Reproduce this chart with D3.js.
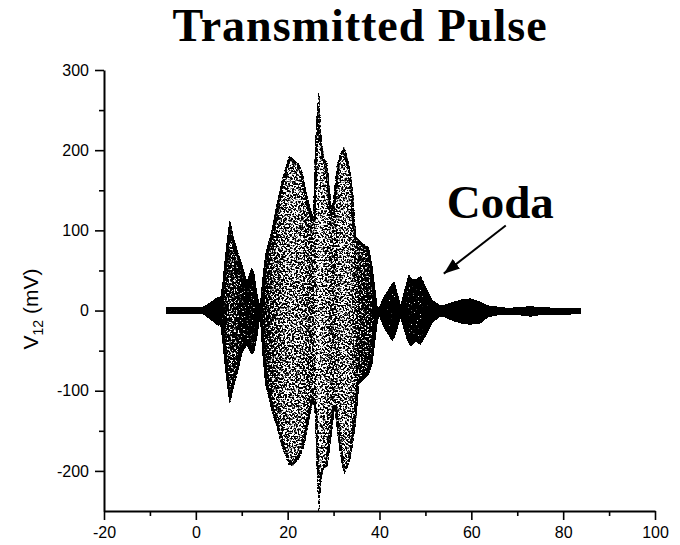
<!DOCTYPE html>
<html>
<head>
<meta charset="utf-8">
<script src="https://cdn.jsdelivr.net/npm/d3@7"></script>
<style>
	body { margin: 0; background: #fff; }
	svg { display: block; }
	.tick text { font-family: Arial, "Liberation Sans", sans-serif; font-size: 16px; fill: #000; }
</style>
</head>
<body>
<div id="chart"></div>
<script>
// envelope of the transmitted pulse (time in us, mV)
var envTime  = [-6.4, 1.5, 3.0, 5.0, 5.3, 5.8, 6.5, 7.4, 8.2, 9.0, 10.1, 11.1, 12.1, 12.6, 13.4, 14.0,
	14.6, 15.2, 16.6, 17.4, 18.8, 20.3, 21.0, 22.4, 23.2, 23.9, 25.0, 25.6, 26.0, 26.4, 26.8, 27.3, 27.9, 28.6,
	29.6, 30.2, 30.8, 31.5, 32.3, 33.0, 33.7, 34.3, 34.8, 35.5, 37.0, 37.6, 38.4, 39.5, 39.9,
	41.0, 42.8, 43.2, 44.6, 46.1, 46.4, 46.8, 47.9, 48.9, 50.4, 51.5, 52.9, 54.4, 56.0, 58.0, 59.8, 62.0,
	63.5, 66.0, 68.0, 70.0, 72.9, 75.0, 80.0, 83.8];
var envUpper = [3.5, 3.5, 9, 17, 12, 30, 70, 112, 90, 75, 56, 35, 52, 48, 17, 4,
	40, 70, 100, 125, 162, 192, 190, 183, 172, 150, 125, 115, 200, 245, 271, 215, 190, 183,
	121, 150, 183, 195, 204, 190, 171, 140, 92, 88, 80, 79, 54, 4, 3,
	17, 33, 35, 5, 38, 44, 40, 38, 42.5, 25, 12.5, 7, 7, 10, 13.5, 14.6, 10,
	6, 4, 3, 3.5, 5, 3.5, 3, 3];
var envLower = [-3.5, -3.5, -10, -19, -12, -35, -75, -115, -95, -78, -52, -42, -54, -52, -29, -5,
	-55, -92, -125, -141, -170, -192, -194, -185, -175, -160, -125, -112, -130, -200, -250, -210, -195, -196,
	-150, -121, -150, -180, -204, -195, -183, -160, -140, -92, -83, -79, -65, -15, -5,
	-21, -37, -33, -8, -37, -40, -44, -38, -42, -27, -15, -8, -8, -12.5, -16, -17, -15.6,
	-8, -5, -5, -5, -7, -5, -4.5, -4];

var tickX = [-20, 0, 20, 40, 60, 80, 100];
var minorX = [-10, 10, 30, 50, 70, 90];
var tickY = [-200, -100, 0, 100, 200, 300];
var minorY = [-150, -50, 50, 150, 250];

var titleText = "Transmitted Pulse";
var codaText = "Coda";
var codaLabel = [66.3, 115];
var codaArrow = [[67.5, 106], [54, 46]];

var width = 680, height = 545;
var x = d3.scaleLinear().domain([-20, 100]).range([104, 655]);
var y = d3.scaleLinear().domain([-250, 300]).range([511, 70]);

// dot density of the trace drops as the swing grows
var density = d3.scaleLog().domain([12, 45, 115, 190, 270]).range([1.0, 0.74, 0.61, 0.54, 0.48]).clamp(true);

var svg = d3.select("#chart").append("svg")
	.attr("width", width)
	.attr("height", height);

var defs = svg.append("defs");

var t0 = envTime[0], t1 = envTime[envTime.length - 1];
function make_gradient(id, extra) {
	var grad = defs.append("linearGradient")
		.attr("id", id)
		.attr("gradientUnits", "userSpaceOnUse")
		.attr("x1", x(t0)).attr("x2", x(t1))
		.attr("y1", 0).attr("y2", 0);
	envTime.forEach(function(t, i) {
		var amp = (envUpper[i] - envLower[i]) / 2;
		var g = Math.round(Math.min(1, density(amp) + extra) * 255);
		grad.append("stop")
			.attr("offset", (t - t0) / (t1 - t0))
			.attr("stop-color", d3.rgb(g, g, g));
	});
}
make_gradient("dens", 0);
make_gradient("densEdge", 0.16);

var filt = defs.append("filter")
	.attr("id", "stipple")
	.attr("x", 0).attr("y", 0).attr("width", width).attr("height", height)
	.attr("filterUnits", "userSpaceOnUse")
	.attr("color-interpolation-filters", "sRGB");
filt.append("feTurbulence")
	.attr("type", "fractalNoise")
	.attr("baseFrequency", 0.55)
	.attr("numOctaves", 2)
	.attr("seed", 7)
	.attr("result", "noise");
filt.append("feColorMatrix")
	.attr("in", "noise").attr("type", "matrix")
	.attr("values", "0 0 0 0 0  0 0 0 0 0  0 0 0 0 0  1 0 0 0 0")
	.attr("result", "na");
filt.append("feColorMatrix")
	.attr("in", "SourceGraphic").attr("type", "matrix")
	.attr("values", "0 0 0 0 0  0 0 0 0 0  0 0 0 0 0  1 0 0 0 0")
	.attr("result", "ga");
filt.append("feComposite")
	.attr("in", "ga").attr("in2", "na")
	.attr("operator", "arithmetic")
	.attr("k1", 0).attr("k2", 12).attr("k3", -12).attr("k4", 0);

var area = d3.area()
	.x(function(d, i) { return x(envTime[i]); })
	.y0(function(d, i) { return y(envLower[i]); })
	.y1(function(d, i) { return y(envUpper[i]); });

defs.append("clipPath")
	.attr("id", "inside")
	.append("path")
	.datum(envTime)
	.attr("d", area);

var trace = svg.append("g").attr("filter", "url(#stipple)");
trace.append("path")
	.datum(envTime)
	.attr("d", area)
	.attr("fill", "url(#dens)");
// samples pile up near the turning points, so the rim is denser
trace.append("path")
	.datum(envTime)
	.attr("d", area)
	.attr("fill", "none")
	.attr("stroke", "url(#densEdge)")
	.attr("stroke-width", 5)
	.attr("stroke-linejoin", "round")
	.attr("clip-path", "url(#inside)");

// axes
var fmt = function(d) { return String(d); };
svg.append("g")
	.attr("transform", "translate(0," + y(-250) + ")")
	.call(d3.axisBottom(x).tickValues(tickX).tickSize(9).tickSizeOuter(0).tickPadding(7).tickFormat(fmt));
svg.append("g")
	.attr("transform", "translate(0," + y(-250) + ")")
	.call(d3.axisBottom(x).tickValues(minorX).tickSize(5).tickSizeOuter(0).tickFormat(""))
	.select(".domain").remove();
svg.append("g")
	.attr("transform", "translate(" + x(-20) + ",0)")
	.call(d3.axisLeft(y).tickValues(tickY).tickSize(9).tickSizeOuter(0).tickPadding(6).tickFormat(fmt));
svg.append("g")
	.attr("transform", "translate(" + x(-20) + ",0)")
	.call(d3.axisLeft(y).tickValues(minorY).tickSize(5).tickSizeOuter(0).tickFormat(""))
	.select(".domain").remove();

svg.selectAll(".domain").attr("stroke", "#000").attr("stroke-width", 2);
svg.selectAll(".tick line").attr("stroke", "#000").attr("stroke-width", 1.6);
svg.selectAll(".tick text").attr("font-family", null).attr("font-size", null);

// y label with subscript
var ylab = svg.append("text")
	.attr("transform", "translate(38," + 309 + ") rotate(-90)")
	.attr("text-anchor", "middle")
	.style("font-family", "Arial, 'Liberation Sans', sans-serif")
	.style("font-size", "21px");
ylab.append("tspan").text("V");
ylab.append("tspan").attr("dy", 5).style("font-size", "14px").text("12");
ylab.append("tspan").attr("dy", -5).text(" (mV)");

// title
svg.append("text")
	.attr("x", 360).attr("y", 41)
	.attr("text-anchor", "middle")
	.style("font-family", "'Times New Roman', 'Liberation Serif', serif")
	.style("font-weight", "bold")
	.style("font-size", "46px")
	.style("letter-spacing", "1px")
	.text(titleText);

// coda annotation
defs.append("marker")
	.attr("id", "head")
	.attr("markerUnits", "userSpaceOnUse")
	.attr("markerWidth", 16).attr("markerHeight", 12)
	.attr("refX", 16).attr("refY", 6)
	.attr("orient", "auto")
	.append("path")
	.attr("d", "M0,0L16,6L0,12Z")
	.attr("fill", "#000");

svg.append("line")
	.attr("x1", x(codaArrow[0][0])).attr("y1", y(codaArrow[0][1]))
	.attr("x2", x(codaArrow[1][0])).attr("y2", y(codaArrow[1][1]))
	.attr("stroke", "#000").attr("stroke-width", 2)
	.attr("marker-end", "url(#head)");

svg.append("text")
	.attr("x", x(codaLabel[0])).attr("y", y(codaLabel[1]))
	.attr("text-anchor", "middle")
	.style("font-family", "'Times New Roman', 'Liberation Serif', serif")
	.style("font-weight", "bold")
	.style("font-size", "47px")
	.text(codaText);
</script>
</body>
</html>
